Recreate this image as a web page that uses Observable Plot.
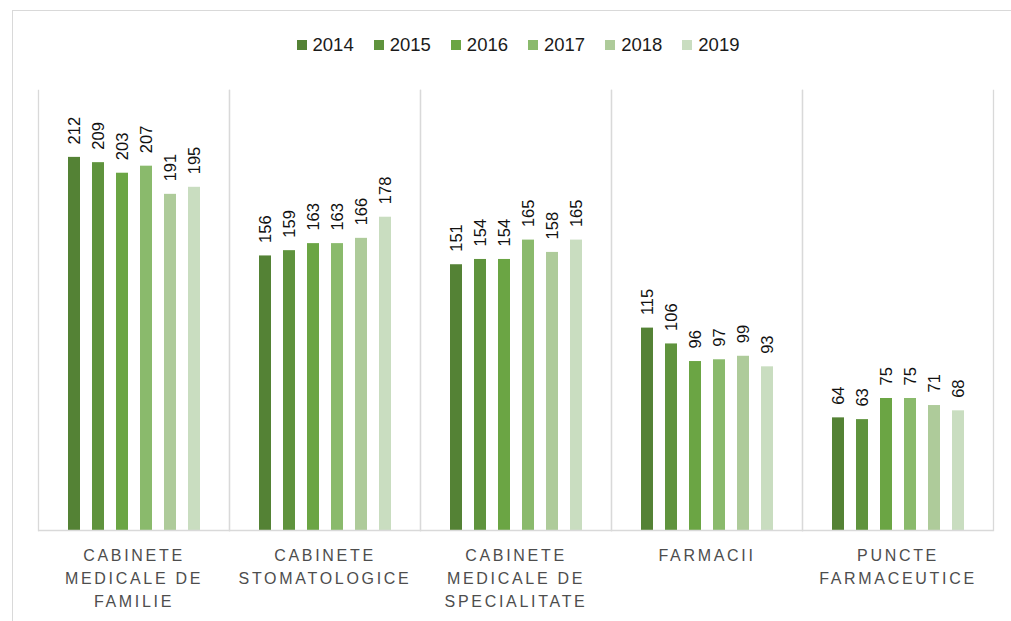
<!DOCTYPE html>
<html>
<head>
<meta charset="utf-8">
<script src="https://cdn.jsdelivr.net/npm/d3@7"></script>
<script src="https://cdn.jsdelivr.net/npm/@observablehq/plot@0.6"></script>
<style>
  html, body { margin: 0; padding: 0; background: #fff; }
  body { width: 1011px; height: 621px; overflow: hidden; position: relative; font-family: "Liberation Sans", Arial, sans-serif; }
  #border { position: absolute; left: 12px; top: 10px; width: 1100px; height: 700px; border-left: 1.5px solid #d9d9d9; border-top: 1.5px solid #d9d9d9; pointer-events: none; }
  #legend { position: relative; height: 70px; display: flex; justify-content: center; align-items: flex-start; padding-left: 25px; box-sizing: border-box; }
  #legend .items { display: flex; gap: 20px; margin-top: 34px; }
  #legend .item { display: flex; align-items: center; gap: 6px; font-size: 18.5px; color: #1a1a1a; line-height: 22px; }
  #legend .sw { width: 10px; height: 10px; display: inline-block; }
  #chart svg g[aria-label="fx-axis tick label"] text { letter-spacing: 2.7px; }
</style>
</head>
<body>
<div id="border"></div>
<div id="legend"><div class="items"></div></div>
<div id="chart"></div>
<script>
const categories = [
  "CABINETE MEDICALE DE FAMILIE",
  "CABINETE STOMATOLOGICE",
  "CABINETE MEDICALE DE SPECIALITATE",
  "FARMACII",
  "PUNCTE FARMACEUTICE"
];
const categoryLabels = [
  "CABINETE\nMEDICALE DE\nFAMILIE",
  "CABINETE\nSTOMATOLOGICE",
  "CABINETE\nMEDICALE DE\nSPECIALITATE",
  "FARMACII",
  "PUNCTE\nFARMACEUTICE"
];
const years = ["2014", "2015", "2016", "2017", "2018", "2019"];
const colors = ["#548235", "#5f933d", "#6ba544", "#8aba6c", "#aecb9a", "#c9ddc0"];
const v2014 = [212, 156, 151, 115, 64];
const v2015 = [209, 159, 154, 106, 63];
const v2016 = [203, 163, 154, 96, 75];
const v2017 = [207, 163, 165, 97, 75];
const v2018 = [191, 166, 158, 99, 71];
const v2019 = [195, 178, 165, 93, 68];
const series = [v2014, v2015, v2016, v2017, v2018, v2019];

const data = [];
categories.forEach((c, i) => {
  years.forEach((y, j) => data.push({ category: c, year: y, value: series[j][i] }));
});

// legend
const items = d3.select("#legend .items");
years.forEach((y, j) => {
  const it = items.append("div").attr("class", "item");
  it.append("span").attr("class", "sw").style("background", colors[j]);
  it.append("span").text(y);
});

const labelOf = new Map(categories.map((c, i) => [c, categoryLabels[i]]));

const plot = Plot.plot({
  width: 1011,
  height: 551,
  marginLeft: 37,
  marginRight: 18,
  marginTop: 20,
  marginBottom: 91,
  style: { fontFamily: "Liberation Sans, Arial, sans-serif", background: "transparent" },
  fx: { domain: categories, padding: 0 },
  x: { domain: years, paddingInner: 0.5, paddingOuter: 1.08, axis: null },
  y: { domain: [0, 250], axis: null },
  color: { domain: years, range: colors },
  marks: [
    Plot.frame({ anchor: "left", stroke: "#d9d9d9", strokeWidth: 1.3 }),
    Plot.frame({ anchor: "right", stroke: "#d9d9d9", strokeWidth: 1.3 }),
    Plot.barY(data, { fx: "category", x: "year", y: "value", fill: "year" }),
    Plot.ruleY([0], { stroke: "#d9d9d9", strokeWidth: 1.5 }),
    Plot.text(data, {
      fx: "category", x: "year", y: "value", text: d => String(d.value),
      rotate: -90, textAnchor: "start", dy: -13, fontSize: 16.5, fill: "#111"
    }),
    Plot.axisFx({
      anchor: "bottom", tickSize: 0, tickPadding: 14, fontSize: 16, lineHeight: 1.45,
      tickFormat: d => labelOf.get(d), fill: "#4d4d4d", label: null
    })
  ]
});
document.getElementById("chart").appendChild(plot);
</script>
</body>
</html>
